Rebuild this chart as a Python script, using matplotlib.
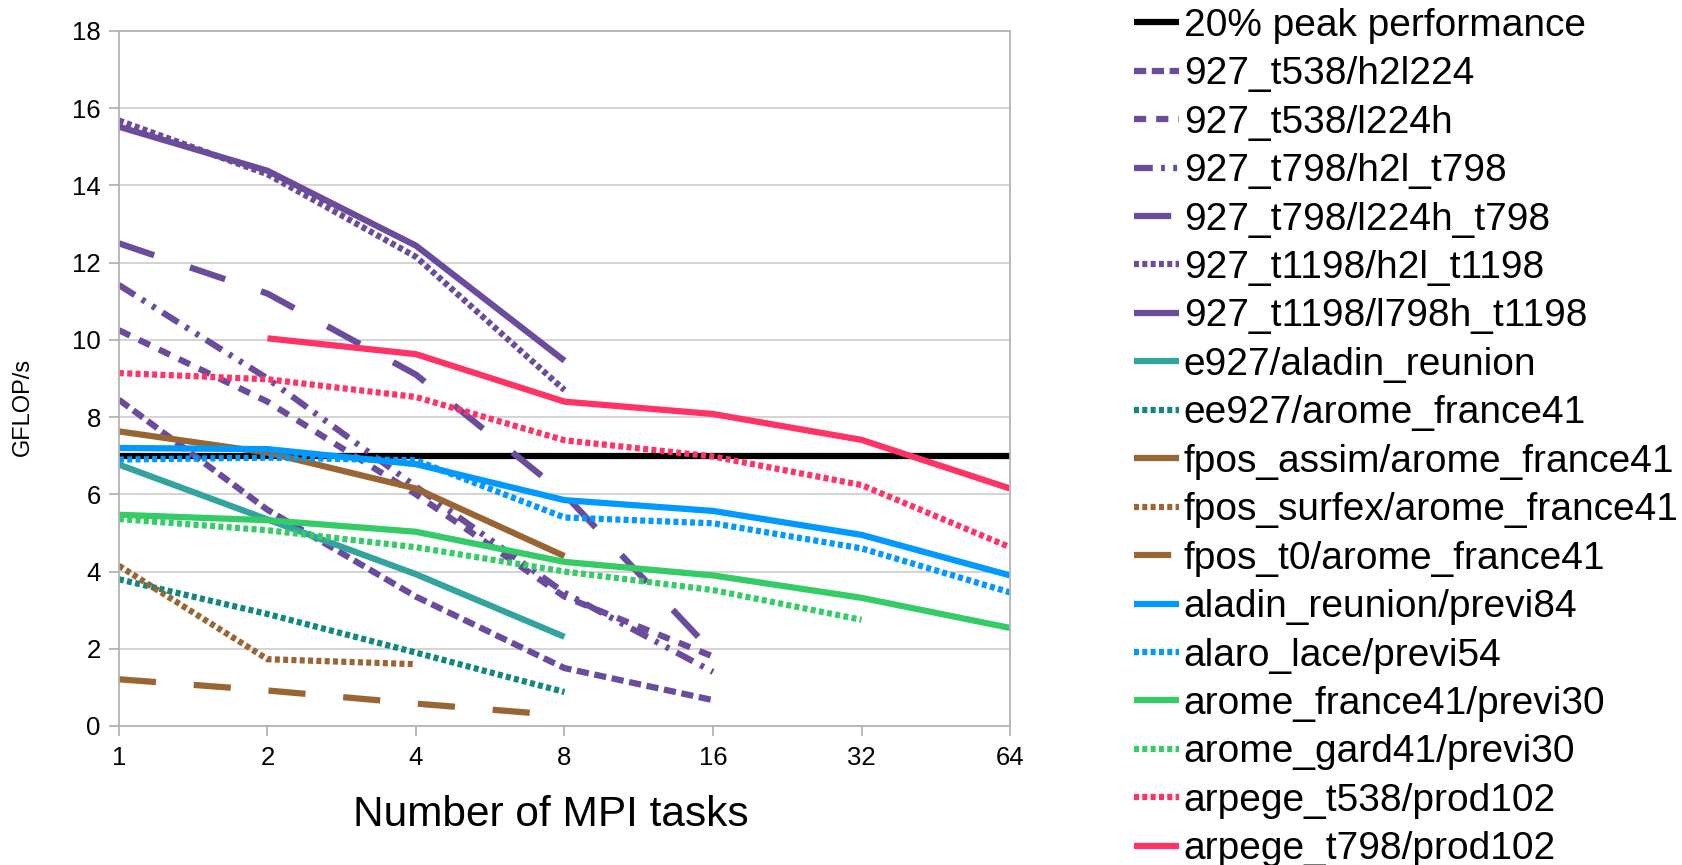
import matplotlib
matplotlib.use('Agg')
import matplotlib.pyplot as plt
import numpy as np

# ---------------- data ----------------
x_labels = ['1', '2', '4', '8', '16', '32', '64']

peak_20pct = [7.0, 7.0, 7.0, 7.0, 7.0, 7.0, 7.0]
t538_h2l224 = [8.45, 5.6, 3.35, 1.5, 0.67]
t538_l224h = [10.25, 8.4, 6.0, 3.35, 1.8]
t798_h2l_t798 = [11.42, 9.0, 6.2, 3.45, 1.4]
t798_l224h_t798 = [12.5, 11.2, 9.1, 6.0, 1.9]
t1198_h2l_t1198 = [15.68, 14.29, 12.15, 8.7]
t1198_l798h_t1198 = [15.52, 14.38, 12.44, 9.46]
e927_aladin_reunion = [6.77, 5.35, 3.93, 2.31]
ee927_arome_france41 = [3.8, 2.9, 1.9, 0.88]
fpos_assim = [7.63, 7.08, 6.15, 4.4]
fpos_surfex = [4.15, 1.73, 1.6]
fpos_t0 = [1.21, 0.92, 0.58, 0.27]
aladin_reunion_previ84 = [7.2, 7.17, 6.78, 5.85, 5.57, 4.95, 3.9]
alaro_lace_previ54 = [6.9, 6.95, 6.88, 5.4, 5.25, 4.6, 3.46]
arome_france41_previ30 = [5.47, 5.33, 5.03, 4.25, 3.9, 3.32, 2.54]
arome_gard41_previ30 = [5.36, 5.07, 4.63, 4.0, 3.52, 2.75]
arpege_t538_prod102 = [9.14, 8.98, 8.52, 7.4, 6.98, 6.24, 4.63]
arpege_t798_prod102 = [None, 10.04, 9.63, 8.4, 8.08, 7.41, 6.15]

# ---------------- styles ----------------
PURPLE = '#6a4b9c'
TEAL = '#33a39d'
TEAL_D = '#12877f'
BROWN = '#996633'
BLUE = '#0099ff'
GREEN = '#33cc66'
PINK = '#ff3366'

SOLID = '-'
DOT = (0, (0.8, 0.53))
LONGDASH = (0, (5.95, 6.05))
DASH_WIDE = (0, (1.95, 1.6))
DASH_CLOSE = (0, (1.95, 0.9))
DASHDOTDOT = (0, (3.0, 1.33, 0.62, 1.33, 0.62, 1.33))

series = [
    ('20% peak performance', peak_20pct, 'black', SOLID),
    ('927_t538/h2l224', t538_h2l224, PURPLE, DASH_CLOSE),
    ('927_t538/l224h', t538_l224h, PURPLE, DASH_WIDE),
    ('927_t798/h2l_t798', t798_h2l_t798, PURPLE, DASHDOTDOT),
    ('927_t798/l224h_t798', t798_l224h_t798, PURPLE, LONGDASH),
    ('927_t1198/h2l_t1198', t1198_h2l_t1198, PURPLE, DOT),
    ('927_t1198/l798h_t1198', t1198_l798h_t1198, PURPLE, SOLID),
    ('e927/aladin_reunion', e927_aladin_reunion, TEAL, SOLID),
    ('ee927/arome_france41', ee927_arome_france41, TEAL_D, DOT),
    ('fpos_assim/arome_france41', fpos_assim, BROWN, SOLID),
    ('fpos_surfex/arome_france41', fpos_surfex, BROWN, DOT),
    ('fpos_t0/arome_france41', fpos_t0, BROWN, LONGDASH),
    ('aladin_reunion/previ84', aladin_reunion_previ84, BLUE, SOLID),
    ('alaro_lace/previ54', alaro_lace_previ54, BLUE, DOT),
    ('arome_france41/previ30', arome_france41_previ30, GREEN, SOLID),
    ('arome_gard41/previ30', arome_gard41_previ30, GREEN, DOT),
    ('arpege_t538/prod102', arpege_t538_prod102, PINK, DOT),
    ('arpege_t798/prod102', arpege_t798_prod102, PINK, SOLID),
]

LW = 4.5
GRID_C = '#d0d0d0'
AXIS_C = '#b3b3b3'
SANS = ['Liberation Sans', 'DejaVu Sans']

fig = plt.figure(figsize=(16.82, 8.65), dpi=100)
ax = fig.add_axes([0.0707, 0.1607, 0.5298, 0.8035])

xs = np.arange(len(x_labels))
handles = []
for label, vals, color, ls in series:
    y = np.array([np.nan if v is None else v for v in vals], dtype=float)
    line, = ax.plot(xs[:len(y)], y, color=color, lw=LW, linestyle=ls,
                    solid_capstyle='butt', dash_capstyle='butt',
                    solid_joinstyle='round', label=label)
    handles.append(line)

ax.set_xlim(0, len(x_labels) - 1)
ax.set_ylim(0, 18)
ax.set_xticks(xs)
ax.set_xticklabels(x_labels)
ax.set_yticks(np.arange(0, 19, 2))
ax.yaxis.grid(True, color=GRID_C, lw=1.3)
ax.set_axisbelow(True)
for sp in ax.spines.values():
    sp.set_color(AXIS_C)
    sp.set_linewidth(1.3)
ax.tick_params(axis='both', length=7, width=1.3, color=AXIS_C,
               labelsize=18.5, direction='out')
ax.tick_params(axis='x', pad=7.5)
ax.tick_params(axis='y', pad=6)
for t in ax.get_xticklabels() + ax.get_yticklabels():
    t.set_family(SANS)

fig.text(0.3277, 0.058, 'Number of MPI tasks', ha='center', va='center',
         fontsize=30.5, family=SANS)
fig.text(0.0137, 0.529, 'GFLOP/s', ha='center', va='center', rotation=90,
         fontsize=17, family=SANS)

fig.legend(handles=handles, loc='upper left', bbox_to_anchor=(0.674, 0.991),
           frameon=False, prop={'family': SANS, 'size': 28},
           handlelength=1.16, handletextpad=0.13, labelspacing=0.32,
           borderaxespad=0, borderpad=0)

fig.savefig('out.png', dpi=100)
